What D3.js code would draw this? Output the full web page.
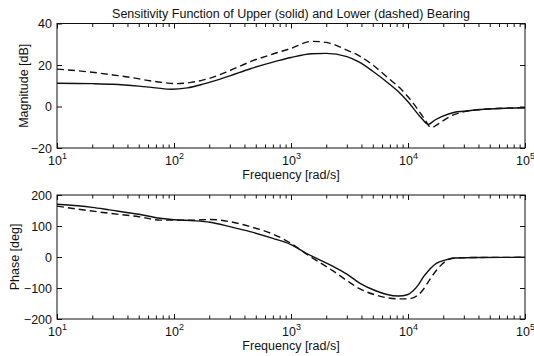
<!DOCTYPE html>
<html><head><meta charset="utf-8">
<script src="https://cdn.jsdelivr.net/npm/d3@7/dist/d3.min.js"></script>
<style>
body{margin:0;background:#fff}
text{font-family:"Liberation Sans",Arial,Helvetica,sans-serif;fill:#111}
</style>
</head><body>
<svg id="chart" width="534" height="356"></svg>
<script>
// ---- data ----
const titleText = "Sensitivity Function of Upper (solid) and Lower (dashed) Bearing";
const xLabelText = "Frequency [rad/s]";
const xMajorTicks = [1e1, 1e2, 1e3, 1e4, 1e5];
const magTicks = [-20, 0, 20, 40];
const phaseTicks = [-200, -100, 0, 100, 200];

const magSolidFreq = [10,20,30,50,70,95,130,170,210,300,450,700,1000,1500,2000,3000,3800,5000,6800,8500,10000,13000,14900,17000,19400,25000,30000,48000,70000,100000];
const magSolidDb   = [11.2,11.0,10.7,9.8,9.0,8.3,9.0,10.5,12.0,14.8,18.2,21.4,23.6,25.4,25.6,24.0,21.5,17,11.2,6.5,2.3,-5.5,-8.6,-6.5,-4.9,-2.8,-2.3,-1.2,-0.8,-0.6];

const magDashedFreq = [10,20,30,45,62,80,105,140,170,210,300,450,700,1000,1500,2000,3000,3800,5000,6800,8500,10000,13100,14000,15800,17500,19400,25000,28700,48000,70000,100000];
const magDashedDb   = [18.0,16.5,15.2,13.8,12.4,11.6,11.0,11.6,12.5,13.9,17.3,21.6,25.3,28.0,31.4,30.9,27.2,24.5,20,13.6,9,4.7,-4.1,-6.5,-10.2,-9.0,-7.3,-3.8,-2.8,-1.2,-0.8,-0.6];

const phSolidFreq = [10,20,28,50,76,100,150,204,300,447,700,1000,1350,2290,3000,3890,5230,6500,8260,10000,11000,12250,13500,14900,17600,20700,25300,40000,100000];
const phSolidDeg  = [170,160,152,138,125,120,117,112,98,82,60,40,12,-30,-55,-85,-108,-120,-126,-121,-110,-90,-65,-45,-20,-10,-3,-1.5,-1];

const phDashedFreq = [10,28,50,76,100,150,204,300,447,700,1000,1350,2290,3000,3890,5230,8260,10000,12250,13500,14900,17600,20700,25300,40000,100000];
const phDashedDeg  = [164,141,130,119,119,119,121,114,98,74,44,10,-45,-76,-103,-122,-135,-135,-122,-105,-80,-42,-15,-3,-1.5,-1];

// ---- layout ----
const svg = d3.select("#chart");
const X0 = 57, X1 = 525;
const FS = 12.5;
const x = d3.scaleLog().domain([1e1, 1e5]).range([X0, X1]);

const minorTicks = [];
for (let e = 1; e < 5; e++) for (let m = 2; m <= 9; m++) minorTicks.push(m * Math.pow(10, e));

const panels = [
  {top: 23.5, bottom: 148, domain: [-20, 40], ticks: magTicks, label: "Magnitude [dB]", labelX: 24,
   series: [{f: magSolidFreq, v: magSolidDb, dash: null}, {f: magDashedFreq, v: magDashedDb, dash: "7,4"}]},
  {top: 195, bottom: 319, domain: [-200, 200], ticks: phaseTicks, label: "Phase [deg]", labelX: 15,
   series: [{f: phSolidFreq, v: phSolidDeg, dash: null}, {f: phDashedFreq, v: phDashedDeg, dash: "7,4"}]}
];

svg.append("text").attr("x", (X0 + X1) / 2).attr("y", 18)
  .attr("text-anchor", "middle").attr("font-size", FS).text(titleText);

panels.forEach(p => {
  const y = d3.scaleLinear().domain(p.domain).range([p.bottom, p.top]);
  const g = svg.append("g");

  p.series.forEach(s => {
    const pts = s.f.map((f, i) => ({f, v: s.v[i]}));
    g.append("path").datum(pts)
      .attr("fill", "none").attr("stroke", "#111").attr("stroke-width", 1.4)
      .attr("stroke-dasharray", s.dash)
      .attr("d", d3.line().x(d => x(d.f)).y(d => y(d.v)).curve(d3.curveMonotoneX));
  });

  const styleAxis = sel => { sel.select(".domain").remove(); sel.selectAll("line").attr("stroke", "#111"); };

  const bottom = g.append("g").attr("transform", `translate(0,${p.bottom})`)
    .call(d3.axisBottom(x).tickValues(xMajorTicks).tickSize(-5).tickSizeOuter(0).tickFormat(""));
  styleAxis(bottom);
  bottom.selectAll(".tick text").remove();
  bottom.selectAll(".tick").append("text")
    .attr("y", 16.5).attr("text-anchor", "middle").attr("font-size", FS).attr("fill", "#111")
    .each(function(d) {
      const t = d3.select(this);
      t.append("tspan").text("10");
      t.append("tspan").attr("dy", -5.5).attr("font-size", 9).text(Math.round(Math.log10(d)));
    });
  const bottomMinor = g.append("g").attr("transform", `translate(0,${p.bottom})`)
    .call(d3.axisBottom(x).tickValues(minorTicks).tickSize(-3.5).tickSizeOuter(0).tickFormat(""));
  styleAxis(bottomMinor);

  const topAx = g.append("g").attr("transform", `translate(0,${p.top})`)
    .call(d3.axisTop(x).tickValues(xMajorTicks).tickSize(-5).tickSizeOuter(0).tickFormat(""));
  styleAxis(topAx);
  const topMinor = g.append("g").attr("transform", `translate(0,${p.top})`)
    .call(d3.axisTop(x).tickValues(minorTicks).tickSize(-3.5).tickSizeOuter(0).tickFormat(""));
  styleAxis(topMinor);

  const left = g.append("g").attr("transform", `translate(${X0},0)`)
    .call(d3.axisLeft(y).tickValues(p.ticks).tickSize(-5).tickSizeOuter(0).tickPadding(5));
  styleAxis(left);
  left.selectAll("text").attr("font-size", FS).attr("fill", "#111")
    .attr("font-family", '"Liberation Sans",Arial,sans-serif');

  const right = g.append("g").attr("transform", `translate(${X1},0)`)
    .call(d3.axisRight(y).tickValues(p.ticks).tickSize(-5).tickSizeOuter(0).tickFormat(""));
  styleAxis(right);

  g.append("rect").attr("x", X0).attr("y", p.top).attr("width", X1 - X0).attr("height", p.bottom - p.top)
    .attr("fill", "none").attr("stroke", "#111").attr("stroke-width", 1);

  g.append("text").attr("x", (X0 + X1) / 2).attr("y", p.bottom + 30.5)
    .attr("text-anchor", "middle").attr("font-size", FS).text(xLabelText);
  g.append("text").attr("transform", `translate(${p.labelX},${(p.top + p.bottom) / 2}) rotate(-90)`)
    .attr("dy", "0.35em").attr("text-anchor", "middle").attr("font-size", FS).text(p.label);
});
</script>
</body></html>
